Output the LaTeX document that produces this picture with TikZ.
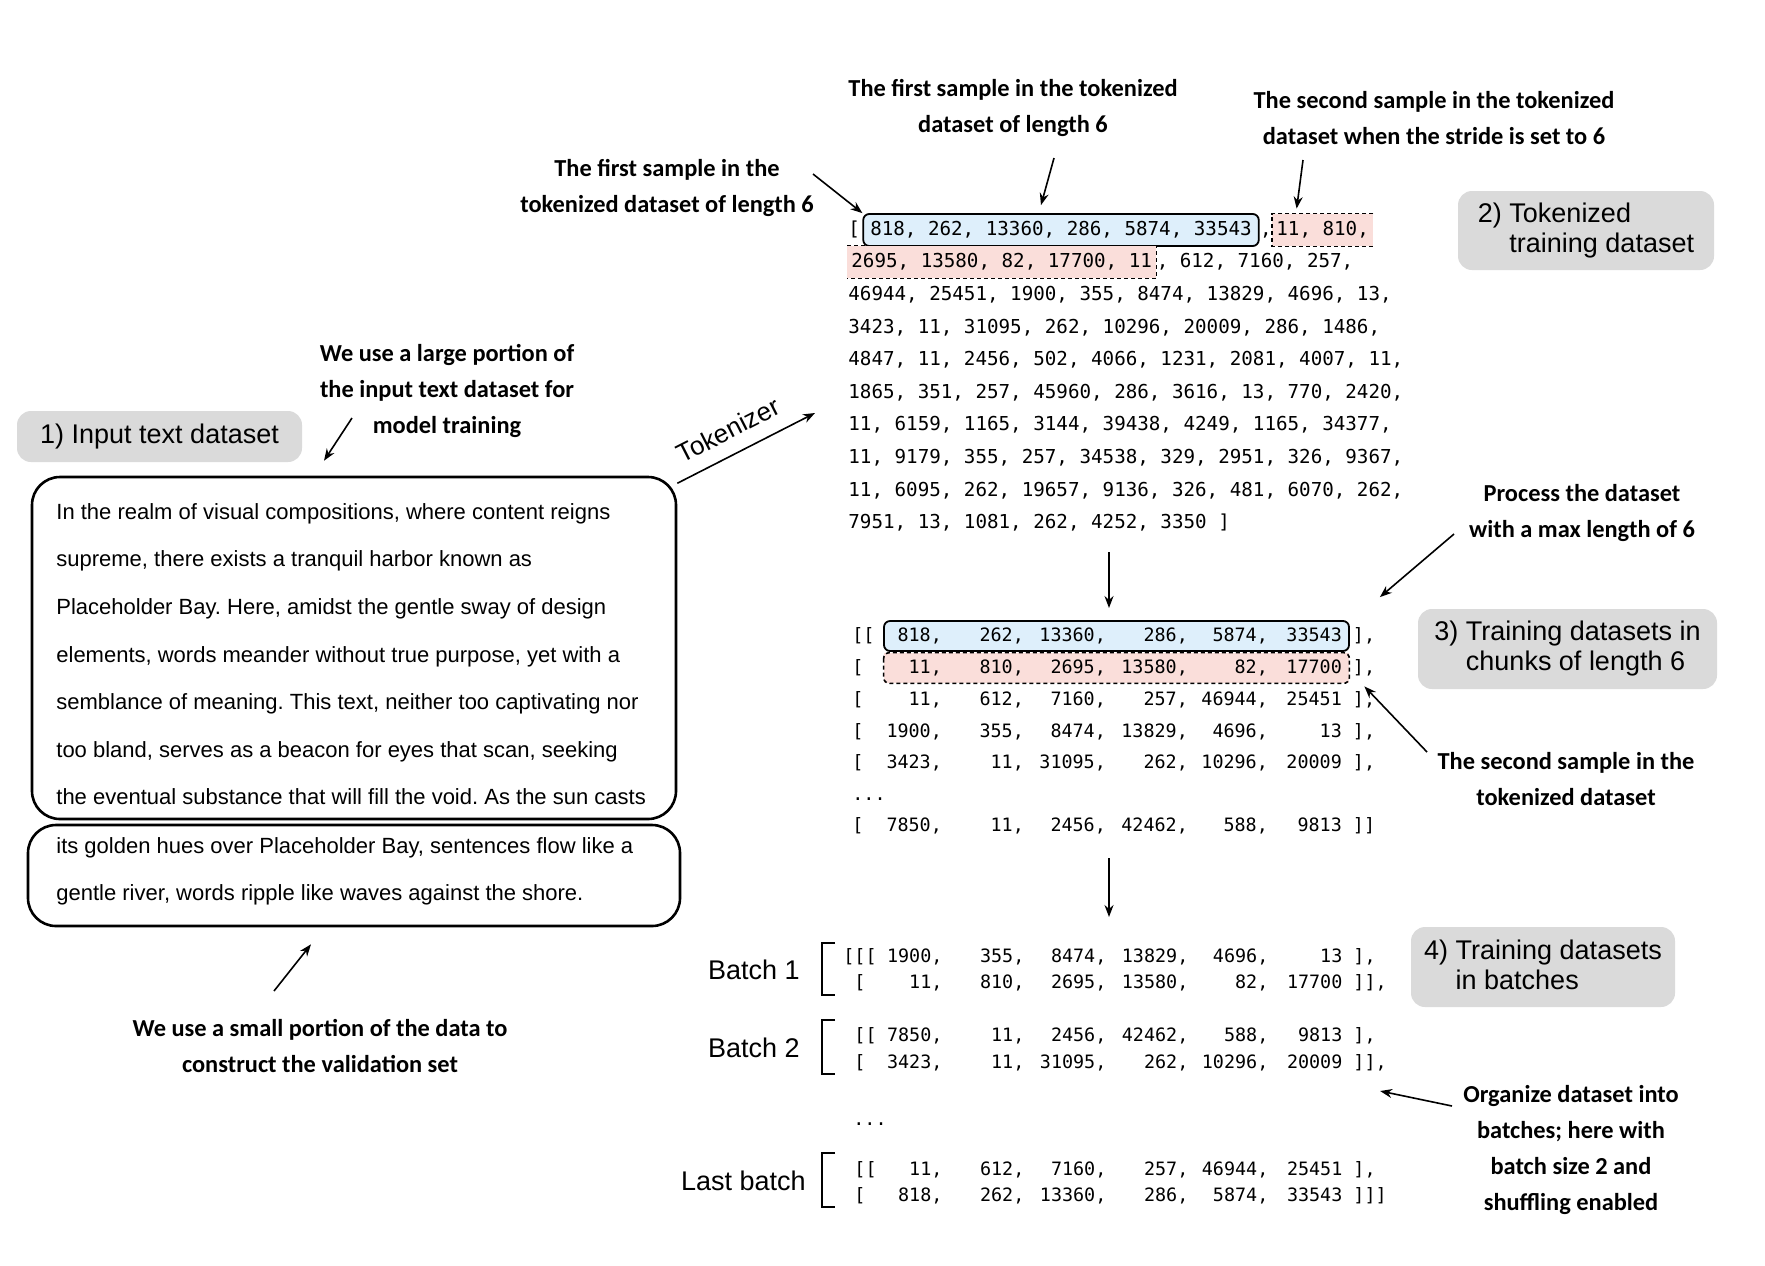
\documentclass[tikz,border=0pt]{standalone}
\usepackage{fontspec}
\setmainfont{Liberation Sans}
\newfontfamily\notefont{Carlito}
\newfontfamily\codefont{DejaVu Sans Mono}
\usepackage{xcolor}
\usetikzlibrary{arrows.meta,positioning}
\frenchspacing

\definecolor{labelgray}{RGB}{218,218,218}
\definecolor{sampleblue}{RGB}{222,239,251}
\definecolor{samplered}{RGB}{250,222,218}

% one row of six token ids, columns right aligned
\newcommand{\idrow}[9]{%
  \makebox[#1][s]{#2\hfill#3,}\makebox[41pt][r]{#4,}\makebox[41pt][r]{#5,}%
  \makebox[41pt][r]{#6,}\makebox[40pt][r]{#7,}\makebox[37pt][r]{#8}#9}

\tikzset{
    >={Stealth[length=6pt,width=4.5pt]},
    arr/.style={->, line width=0.8pt},
    tokcode/.style={font=\codefont\fontsize{9.6}{12}\selectfont, inner sep=0pt,
        text height=7.5pt, text depth=2pt},
    gridcode/.style={tokcode, font=\codefont\fontsize{9.2}{12}\selectfont},
    firstsample/.style={tokcode, draw, fill=sampleblue, rounded corners=3pt,
        line width=0.9pt, inner xsep=3.5pt, minimum height=16pt},
    secondsample/.style={tokcode, fill=samplered, inner xsep=2pt, minimum height=16pt},
    sampleedge/.style={line width=0.8pt, dash pattern=on 2pt off 1.5pt},
    textbox/.style={draw, line width=1.3pt, rounded corners=14pt},
    bodytext/.style={font=\fontsize{11}{23.8}\selectfont, align=left, inner sep=0pt},
    stagelabel/.style={fill=labelgray, rounded corners=7pt,
        font=\fontsize{13.5}{15}\selectfont, align=left, inner sep=0pt},
    note/.style={font=\notefont\bfseries\fontsize{12.2}{18}\selectfont, align=center, inner sep=0pt},
    batchlabel/.style={font=\fontsize{13.5}{15}\selectfont, inner sep=0pt},
    brack/.style={line width=1pt}
}

\begin{document}
\begin{tikzpicture}[x=0.5pt, y=-0.5pt]
    \fill[white] (0,0) rectangle (1765,1265);
    \useasboundingbox (0,0) rectangle (1765,1265);

    % =========================================================================
    % 1) INPUT TEXT
    % =========================================================================
    \node[stagelabel, minimum width=142.5pt, minimum height=25.5pt] (lab1) at (159.5,436.5)
        {1) Input text dataset};

    \node[textbox, minimum width=322pt, minimum height=171pt] (trainbox) at (354,648) {};
    \node[textbox, minimum width=326pt, minimum height=50.5pt] (valbox) at (354,875.5) {};

    \node[bodytext, anchor=north west] (traintext) at (56,503)
        {In the realm of visual compositions, where content reigns\\
         supreme, there exists a tranquil harbor known as\\
         Placeholder Bay. Here, amidst the gentle sway of design\\
         elements, words meander without true purpose, yet with a\\
         semblance of meaning. This text, neither too captivating nor\\
         too bland, serves as a beacon for eyes that scan, seeking\\
         the eventual substance that will fill the void. As the sun casts};
    \node[bodytext, anchor=north west] (valtext) at (56,837)
        {its golden hues over Placeholder Bay, sentences flow like a\\
         gentle river, words ripple like waves against the shore.};

    \node[note] (largenote) at (447,391)
        {We use a large portion of\\the input text dataset for\\model training};
    \coordinate (largetail) at (352,418);
    \draw[arr] (largetail) -- ([xshift=-15pt,yshift=7.5pt]trainbox.north);

    \node[note] (valnote) at (320,1045.5)
        {We use a small portion of the data to\\construct the validation set};
    \coordinate (valtail) at (274,991);
    \draw[arr] (valtail) -- ([xshift=-21.5pt,yshift=-8.5pt]valbox.south);

    % Tokenizer
    \coordinate (toktip) at (815,413);
    \draw[arr] (trainbox.27) -- (toktip)
        node[pos=0.45, sloped, above=7pt, inner sep=0pt, font=\fontsize{13}{15}\selectfont] {Tokenizer};

    % =========================================================================
    % 2) TOKENIZED DATASET
    % =========================================================================
    \node[stagelabel, minimum width=128pt, minimum height=39.5pt] (lab2) at (1586,230.5)
        {2) Tokenized\\\phantom{2) }training dataset};

    \node[tokcode, anchor=west] (t1) at (848,230) {[};
    \node[firstsample, right=1pt of t1] (s1) {818, 262, 13360, 286, 5874, 33543};
    \node[tokcode, right=0pt of s1] (t1c) {,};
    \node[secondsample, right=0pt of t1c] (s2a) {11, 810,};
    \node[secondsample, anchor=west] (s2b) at (847,262) {2695, 13580, 82, 17700, 11};
    \node[tokcode, right=0pt of s2b] (t2) {, 612, 7160, 257,};
    \draw[sampleedge] (s2a.north east) -- (s2a.north west) -- (s2a.south west) -- (s2a.south east);
    \draw[sampleedge] (s2b.north west) -- (s2b.north east) -- (s2b.south east) -- (s2b.south west);

    \node[tokcode, anchor=west] (t3) at (848,295) {46944, 25451, 1900, 355, 8474, 13829, 4696, 13,};
    \node[tokcode, anchor=west] (t4) at (848,328) {3423, 11, 31095, 262, 10296, 20009, 286, 1486,};
    \node[tokcode, anchor=west] (t5) at (848,360) {4847, 11, 2456, 502, 4066, 1231, 2081, 4007, 11,};
    \node[tokcode, anchor=west] (t6) at (848,393) {1865, 351, 257, 45960, 286, 3616, 13, 770, 2420,};
    \node[tokcode, anchor=west] (t7) at (848,425) {11, 6159, 1165, 3144, 39438, 4249, 1165, 34377,};
    \node[tokcode, anchor=west] (t8) at (848,458) {11, 9179, 355, 257, 34538, 329, 2951, 326, 9367,};
    \node[tokcode, anchor=west] (t9) at (848,491) {11, 6095, 262, 19657, 9136, 326, 481, 6070, 262,};
    \node[tokcode, anchor=west] (t10) at (848,523) {7951, 13, 1081, 262, 4252, 3350 ]};

    \node[note] (firstnoteL) at (667,187.5) {The first sample in the\\tokenized dataset of length 6};
    \coordinate (firstLtail) at (813,174);
    \draw[arr] (firstLtail) -- (s1.north west);

    \node[note] (firstnoteT) at (1013,107.5) {The first sample in the tokenized\\dataset of length 6};
    \coordinate (firstTtail) at (1054,158);
    \draw[arr] (firstTtail) -- ([xshift=-10pt,yshift=4pt]s1.north);

    \node[note] (secondnoteT) at (1434,118) {The second sample in the tokenized\\dataset when the stride is set to 6};
    \coordinate (secondTtail) at (1303,160);
    \draw[arr] (secondTtail) -- ([xshift=-13pt,yshift=2.5pt]s2a.north);

    % =========================================================================
    % 3) CHUNKS OF LENGTH 6
    % =========================================================================
    \coordinate (tokout) at (1109,552);
    \coordinate (chunkin) at (1109,608);
    \draw[arr] (tokout) -- (chunkin);

    \node[stagelabel, minimum width=149.5pt, minimum height=40pt] (lab3) at (1567.5,649)
        {3) Training datasets in\\\phantom{3) }chunks of length 6};

    \node[firstsample, minimum width=232.5pt, minimum height=15pt] (c1box) at (1116.5,636) {};
    \node[secondsample, minimum width=232.5pt, minimum height=15pt] (c2box) at (1116.5,668) {};
    \draw[sampleedge, rounded corners=3pt] (c2box.north west) rectangle (c2box.south east);

    \node[gridcode, anchor=west] (c1) at (852,636) {\idrow{44.75pt}{[[}{818}{262}{13360}{286}{5874}{33543}{ ],}};
    \node[gridcode, anchor=west] (c2) at (852,668) {\idrow{44.75pt}{[}{11}{810}{2695}{13580}{82}{17700}{ ],}};
    \node[gridcode, anchor=west] (c3) at (852,700) {\idrow{44.75pt}{[}{11}{612}{7160}{257}{46944}{25451}{ ],}};
    \node[gridcode, anchor=west] (c4) at (852,732) {\idrow{44.75pt}{[}{1900}{355}{8474}{13829}{4696}{13}{ ],}};
    \node[gridcode, anchor=west] (c5) at (852,763) {\idrow{44.75pt}{[}{3423}{11}{31095}{262}{10296}{20009}{ ],}};
    \node[gridcode, anchor=west] (cdots) at (852,795) {...};
    \node[gridcode, anchor=west] (c7) at (852,826) {\idrow{44.75pt}{[}{7850}{11}{2456}{42462}{588}{9813}{ ]]}};

    \node[note] (procnote) at (1582,513) {Process the dataset\\with a max length of 6};
    \coordinate (proctail) at (1454,534);
    \draw[arr] (proctail) -- ([shift={(15pt,11.5pt)}]c1box.north east);

    \node[note] (secondnoteM) at (1566,779) {The second sample in the\\tokenized dataset};
    \coordinate (secondMtail) at (1427,752);
    \draw[arr] (secondMtail) -- ([shift={(7.5pt,-1.5pt)}]c2box.south east);

    % =========================================================================
    % 4) BATCHES
    % =========================================================================
    \coordinate (chunkout) at (1109,858);
    \coordinate (batchin) at (1109,917);
    \draw[arr] (chunkout) -- (batchin);

    \node[stagelabel, minimum width=132pt, minimum height=40pt] (lab4) at (1543,967)
        {4) Training datasets\\\phantom{4) }in batches};

    \node[batchlabel, anchor=east] (b1) at (800,970) {Batch 1};
    \draw[brack] (835,943) -| (822,995) -- (835,995);
    \node[gridcode, anchor=west] (b1a) at (843,957) {\idrow{49.5pt}{[[[}{1900}{355}{8474}{13829}{4696}{13}{ ],}};
    \node[gridcode, anchor=west] (b1b) at (843,983) {\idrow{49.5pt}{\phantom{[}[}{11}{810}{2695}{13580}{82}{17700}{ ]],}};

    \node[batchlabel, anchor=east] (b2) at (800,1048) {Batch 2};
    \draw[brack] (835,1020) -| (822,1074) -- (835,1074);
    \node[gridcode, anchor=west] (b2a) at (843,1036) {\idrow{49.5pt}{\phantom{[}[[}{7850}{11}{2456}{42462}{588}{9813}{ ],}};
    \node[gridcode, anchor=west] (b2b) at (843,1063) {\idrow{49.5pt}{\phantom{[}[}{3423}{11}{31095}{262}{10296}{20009}{ ]],}};

    \node[gridcode, anchor=west] (bdots) at (853,1120) {...};

    \node[batchlabel, anchor=east] (b3) at (806,1181) {Last batch};
    \draw[brack] (835,1153) -| (822,1207) -- (835,1207);
    \node[gridcode, anchor=west] (b3a) at (843,1170) {\idrow{49.5pt}{\phantom{[}[[}{11}{612}{7160}{257}{46944}{25451}{ ],}};
    \node[gridcode, anchor=west] (b3b) at (843,1196) {\idrow{49.5pt}{\phantom{[}[}{818}{262}{13360}{286}{5874}{33543}{ ]]]}};

    \node[note] (batchnote) at (1571,1150)
        {Organize dataset into\\batches; here with\\batch size 2 and\\shuffling enabled};
    \coordinate (batchtail) at (1452,1106);
    \draw[arr] (batchtail) -- ([shift={(-3.5pt,-14pt)}]b2b.east);
\end{tikzpicture}
\end{document}
